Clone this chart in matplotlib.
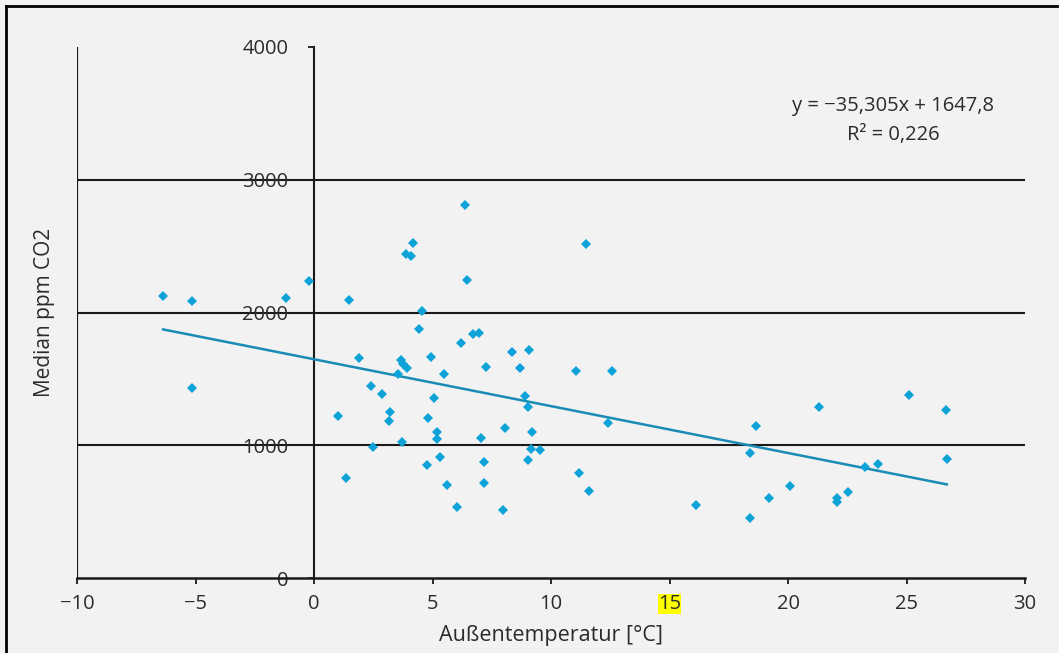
import matplotlib
matplotlib.use("Agg")
import matplotlib.pyplot as plt
import numpy as np

temp = [-6.37, -5.13, -5.13, -1.17, -0.21, 1.47, 1.00, 1.35, 1.90, 2.39,
        2.48, 2.88, 3.21, 3.15, 3.56, 3.66, 3.77, 3.91, 3.71, 3.89,
        4.08, 4.18, 4.42, 4.56, 4.82, 4.78, 4.92, 5.06, 5.20, 5.19,
        5.30, 5.50, 5.61, 6.05, 6.20, 6.37, 6.44, 6.70, 6.96, 7.06,
        7.16, 7.17, 7.26, 7.99, 8.05, 8.37, 8.68, 8.92, 9.02, 9.06,
        9.04, 9.16, 9.18, 9.52, 11.04, 11.17, 11.46, 11.60, 12.42, 12.56,
        16.12, 18.41, 18.41, 18.64, 19.21, 20.08, 21.32, 22.08, 22.08, 22.52,
        23.26, 23.78, 25.12, 26.68, 26.70]
co2 = [2122, 2084, 1434, 2109, 2235, 2097, 1220, 753, 1655, 1449,
       985, 1384, 1250, 1183, 1534, 1640, 1612, 1580, 1022, 2440,
       2423, 2526, 1876, 2009, 1203, 851, 1667, 1358, 1102, 1045,
       914, 1539, 703, 532, 1770, 2810, 2245, 1840, 1846, 1057,
       874, 718, 1592, 510, 1130, 1705, 1580, 1373, 1288, 1720,
       889, 974, 1102, 962, 1559, 791, 2513, 655, 1168, 1559,
       547, 942, 452, 1148, 600, 693, 1286, 605, 572, 648,
       839, 856, 1376, 1266, 894]

slope = -35.305
intercept = 1647.8
eq_text = "y = \u221235,305x + 1647,8"
r2_text = "R\u00b2 = 0,226"
x_ticks = [-10, -5, 0, 5, 10, 15, 20, 25, 30]
x_tick_labels = ["\u221210", "\u22125", "0", "5", "10", "15", "20", "25", "30"]
y_ticks = [0, 1000, 2000, 3000, 4000]
grid_levels = [1000, 2000, 3000]

plt.rcParams['font.family'] = ['Open Sans', 'DejaVu Sans']
txt_color = '#2b2b2b'
bg = '#f2f2f2'

fig = plt.figure(figsize=(10.59, 6.53), dpi=100, facecolor=bg)
ax = fig.add_axes([77/1059, 1-578/653, (1025-77)/1059, (578-47)/653])
ax.set_facecolor(bg)

ax.set_xlim(-10, 30)
ax.set_ylim(0, 4000)

for g in grid_levels:
    ax.axhline(g, color='#1a1a1a', lw=1.5, zorder=1)
ax.axvline(-10, color='#1a1a1a', lw=1.6, zorder=1)

ax.spines['top'].set_visible(False)
ax.spines['right'].set_visible(False)
ax.spines['left'].set_position(('data', 0))
ax.spines['left'].set_color('#1a1a1a')
ax.spines['left'].set_linewidth(1.5)
ax.spines['bottom'].set_color('#1a1a1a')
ax.spines['bottom'].set_linewidth(1.8)

ax.set_xticks(x_ticks)
ax.set_xticklabels(x_tick_labels)
ax.set_yticks(y_ticks)
ax.set_yticklabels([str(v) for v in y_ticks])
ax.tick_params(axis='x', direction='out', length=4, width=1.3, color='#1a1a1a',
               labelsize=14.5, labelcolor=txt_color, pad=7.5)
ax.tick_params(axis='y', direction='out', length=4.5, width=1.3, color='#1a1a1a',
               labelsize=14.5, labelcolor=txt_color, pad=14)

for lab in ax.get_xticklabels():
    if lab.get_text() == "15":
        lab.set_bbox(dict(facecolor='#ffff00', edgecolor='none', pad=0.3))

xs = np.array(temp)
xl = np.array([xs.min(), xs.max()])
ax.plot(xl, slope * xl + intercept, color='#1a8bb5', lw=1.8, zorder=3)
ax.plot(temp, co2, linestyle='none', marker='D', markersize=4.8,
        color='#0da2d8', markeredgewidth=0, zorder=4)

ax.set_xlabel("Au\u00dfentemperatur [\u00b0C]", fontsize=15.5, color=txt_color, labelpad=8)
ax.set_ylabel("Median ppm CO2", fontsize=15, color=txt_color)
ax.yaxis.set_label_coords(-22/948, 0.5)

ax.text(0.861, 0.889, eq_text, transform=ax.transAxes,
        ha='center', va='center', fontsize=14.5, color=txt_color)
ax.text(0.861, 0.834, r2_text, transform=ax.transAxes,
        ha='center', va='center', fontsize=14.5, color=txt_color)

# figure frame
fig.add_artist(plt.Line2D([6/1059, 6/1059], [0, 1-6/653], transform=fig.transFigure,
                          color='black', lw=2))
fig.add_artist(plt.Line2D([6/1059, 1057/1059], [1-6/653, 1-6/653], transform=fig.transFigure,
                          color='black', lw=2))

fig.savefig("out.png", dpi=100, facecolor=bg)
